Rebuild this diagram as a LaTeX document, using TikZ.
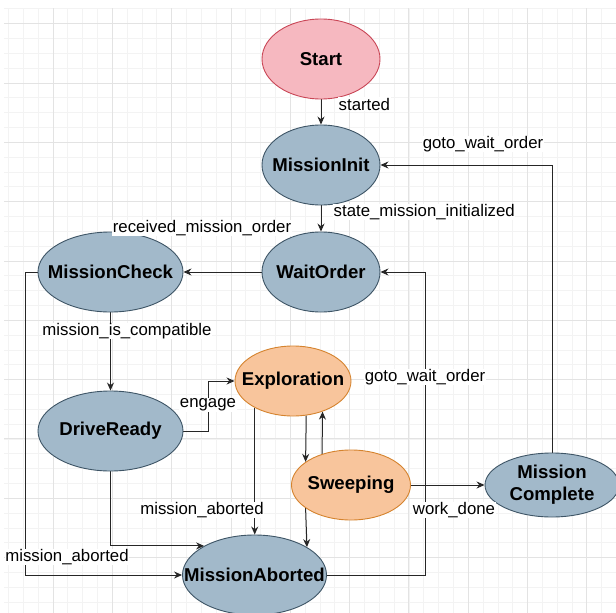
\documentclass[tikz,border=0pt]{standalone}
\usepackage{fontspec}
\setmainfont{Liberation Sans}
\usetikzlibrary{shapes.geometric,arrows.meta}
\pgfdeclarelayer{gridlayer}
\pgfdeclarelayer{edgelayer}
\pgfsetlayers{gridlayer,edgelayer,main}
\definecolor{bluefill}{HTML}{A2B9CA}
\definecolor{bluedraw}{HTML}{3E5566}
\definecolor{pinkfill}{HTML}{F6B8C0}
\definecolor{pinkdraw}{HTML}{C94656}
\definecolor{orangefill}{HTML}{F8C59C}
\definecolor{orangedraw}{HTML}{D5832E}
\definecolor{gridminor}{HTML}{F3F3F3}
\definecolor{gridmajor}{HTML}{E3E3E3}
\definecolor{edgecol}{HTML}{262626}
\begin{document}
\begin{tikzpicture}[x=1pt,y=-1pt,
  state/.style={ellipse, draw=bluedraw, fill=bluefill, line width=0.9pt, inner sep=0pt},
  statetext/.style={font=\fontsize{18.6}{22}\selectfont\bfseries, align=center, inner sep=0pt},
  startstate/.style={state, draw=pinkdraw, fill=pinkfill},
  orangestate/.style={state, draw=orangedraw, fill=orangefill},
  lbl/.style={font=\fontsize{16.8}{19}\selectfont, fill=white, inner sep=0.5pt},
  arr/.style={-{Stealth[length=8pt,width=7pt]}, line width=1pt, draw=edgecol},
  gmin/.style={draw=gridminor, line width=0.8pt},
  gmaj/.style={draw=gridmajor, line width=0.8pt}]
\useasboundingbox (0,0) rectangle (616,613);

% nodes
\node[startstate, minimum width=118pt, minimum height=80pt,
  label={[statetext]center:Start}] (start) at (321,59) {};
\node[state, minimum width=118pt, minimum height=80pt,
  label={[statetext]center:MissionInit}] (init) at (321,165) {};
\node[state, minimum width=118pt, minimum height=80pt,
  label={[statetext]center:WaitOrder}] (wait) at (321,272) {};
\node[state, minimum width=145pt, minimum height=80pt,
  label={[statetext]center:MissionCheck}] (check) at (110.5,272) {};
\node[state, minimum width=145pt, minimum height=80pt,
  label={[statetext]center:DriveReady}] (drive) at (110.5,431) {};
\node[orangestate, minimum width=116pt, minimum height=70pt,
  label={[statetext]center:Exploration}] (explo) at (293,381) {};
\node[orangestate, minimum width=119pt, minimum height=70pt,
  label={[statetext]center:Sweeping}] (sweep) at (351,485) {};
\node[state, minimum width=134pt, minimum height=64pt,
  label={[statetext]center:Mission\\Complete}] (complete) at (552,485) {};
\node[state, minimum width=144pt, minimum height=80pt,
  label={[statetext]center:MissionAborted}] (aborted) at (254.5,575) {};

% grid
\begin{pgfonlayer}{gridlayer}
  \fill[white] (0,0) rectangle (616,613);
  \foreach \k in {-3,...,38} {\draw[gmin] ({53+14.83*\k},8) -- ({53+14.83*\k},613);}
  \foreach \k in {-5,...,36} {\draw[gmin] (4,{83+14.83*\k}) -- (616,{83+14.83*\k});}
  \foreach \k in {0,...,9} {\draw[gmaj] ({53+59.3*\k},8) -- ({53+59.3*\k},613);}
  \foreach \k in {-1,...,8} {\draw[gmaj] (4,{83+59.3*\k}) -- (616,{83+59.3*\k});}
\end{pgfonlayer}

% edges
\begin{pgfonlayer}{edgelayer}
  \draw[arr] (start) -- (init);
  \draw[arr] (init) -- (wait);
  \draw[arr] (complete.north) |- (init.east);
  \coordinate (ab1) at (425,575);
  \draw[arr] (aborted.east) -- (ab1) |- (wait.east);
  \draw[arr] (wait.west) -- (check.east);
  \draw[arr] (check.south) -- (drive.north);
  \coordinate (ck1) at (25,272);
  \draw[arr] (check.west) -- (ck1) |- (aborted.west);
  \coordinate (dr1) at (208,431);
  \draw[arr] (drive.east) -- (dr1) |- (explo.west);
  \draw[arr] (drive.south) |- (aborted.150);
  \draw[arr] (explo.-145) -- (explo.-145 |- aborted.north);
  \draw[arr] (explo.-69) -- (sweep.153);
  \draw[arr] (sweep.133.5) -- (explo.-46.3);
  \draw[arr] (sweep.-153) -- (aborted.28);
  \draw[arr] (sweep.east) -- (complete.west);
\end{pgfonlayer}

% labels
\node[lbl, anchor=west] (lstarted) at (338,104) {started};
\node[lbl, anchor=west] (linit) at (333,212) {state\_mission\_initialized};
\node[lbl] (lgoto1) at (483,144) {goto\_wait\_order};
\node[lbl] (lrecv) at (202,228) {received\_mission\_order};
\node[lbl] (lcompat) at (127,331) {mission\_is\_compatible};
\node[lbl] (lengage) at (208,405) {engage};
\node[lbl] (lgoto2) at (425,377) {goto\_wait\_order};
\node[lbl] (labort1) at (202,510) {mission\_aborted};
\node[lbl] (lwork) at (454,510) {work\_done};
\node[lbl] (labort2) at (67,557) {mission\_aborted};
\end{tikzpicture}
\end{document}
